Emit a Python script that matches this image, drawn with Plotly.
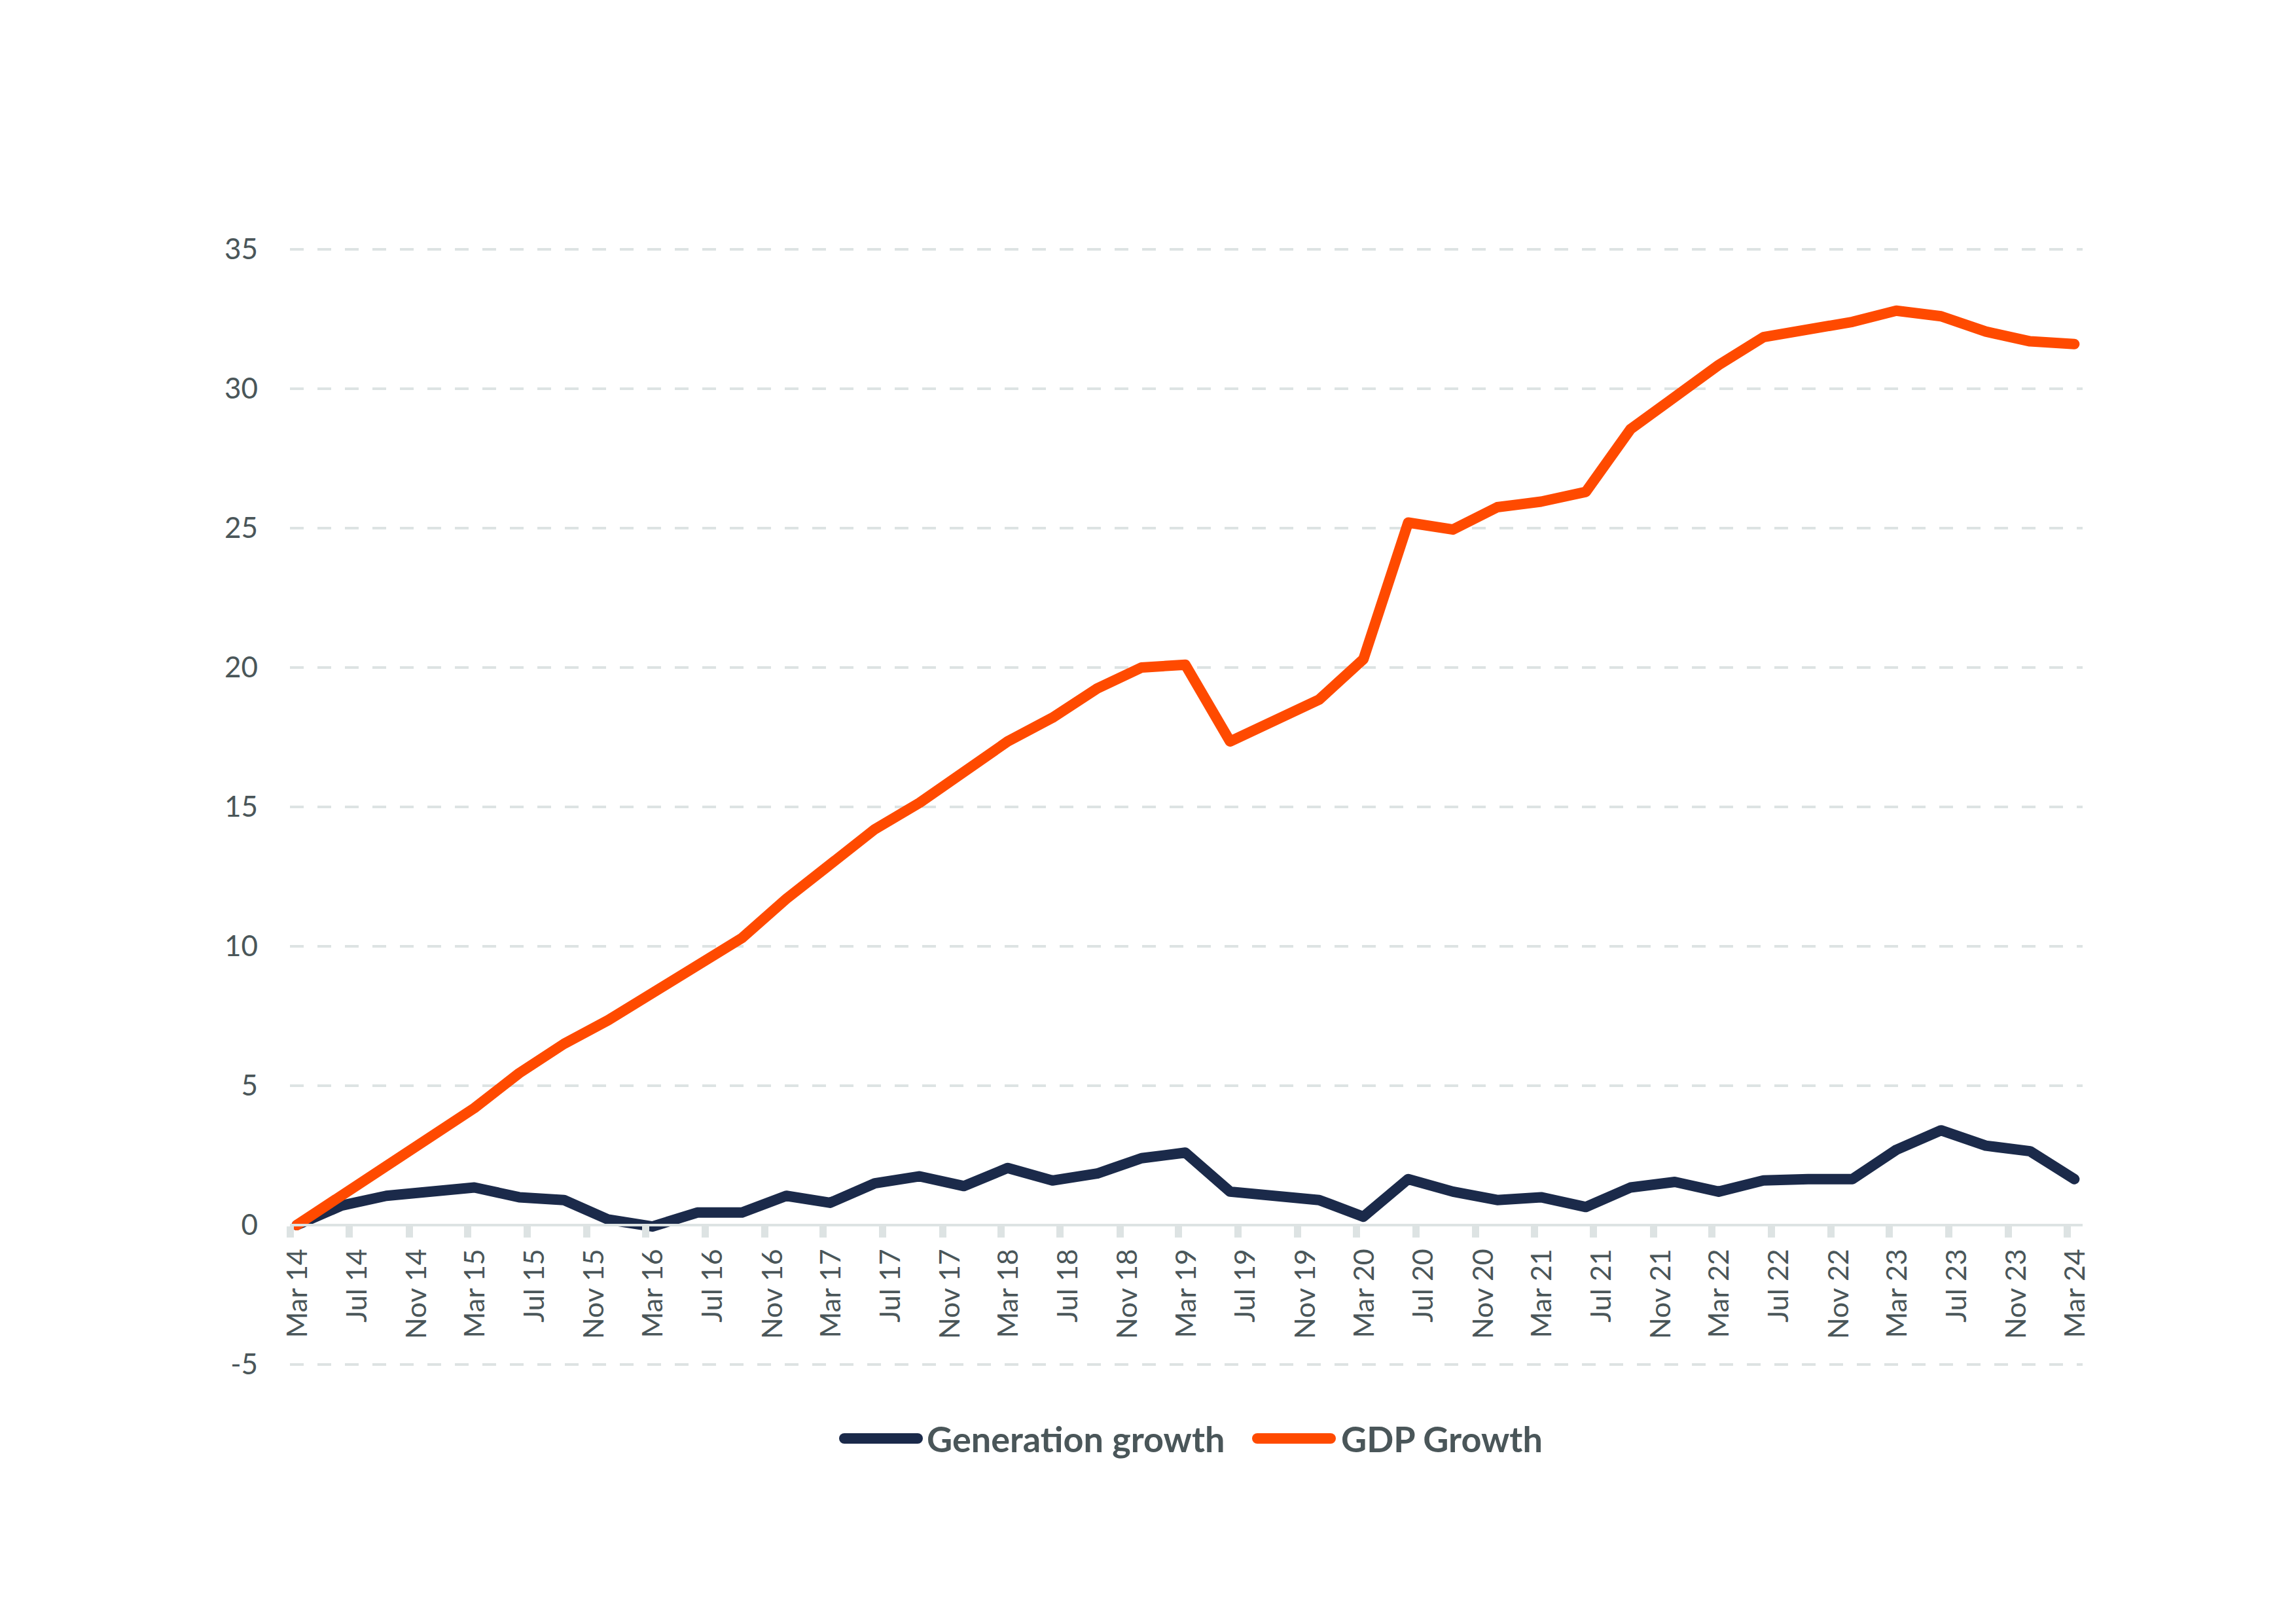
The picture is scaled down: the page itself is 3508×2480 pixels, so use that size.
import pandas as pd
import plotly.graph_objects as go

# Quarterly observations, Mar 2014 .. Mar 2024
periods = pd.date_range("2014-03-01", "2024-03-01", freq="3MS") + pd.Timedelta(days=14)

generation_growth = [
    0.0, 0.7, 1.05, 1.2, 1.35, 1.0, 0.9, 0.2, -0.05, 0.45, 0.45, 1.05, 0.8,
    1.5, 1.75, 1.4, 2.05, 1.6, 1.85, 2.4, 2.6, 1.2, 1.05, 0.9, 0.3, 1.65,
    1.2, 0.9, 1.0, 0.65, 1.35, 1.55, 1.2, 1.6, 1.65, 1.65, 2.7, 3.4, 2.85,
    2.65, 1.65,
]
gdp_growth = [
    0.0, 1.05, 2.1, 3.15, 4.2, 5.45, 6.5, 7.35, 8.3, 9.3, 10.3, 11.7, 12.9,
    14.2, 15.15, 16.25, 17.35, 18.2, 19.25, 20.0, 20.1, 17.35, 18.15, 18.85,
    20.3, 25.2, 24.95, 25.75, 25.95, 26.3, 28.55, 29.75, 30.85, 31.85, 32.1,
    32.4, 32.8, 32.6, 32.05, 31.7, 31.6,
]
series_names = ["Generation growth", "GDP Growth"]
series_colors = ["#1b2a4a", "#ff4a00"]

y_ticks = [-5, 0, 5, 10, 15, 20, 25, 30, 35]

W, H = 3508, 2480
x0_px, x1_px = 443, 3182
ytop_px, ybot_px = 381, 2085
pad = 0.03  # tiny range padding so edge gridlines (-5, 35) are drawn
y_min, y_max = -5, 35
unit_px = (ybot_px - ytop_px) / (y_max - y_min)
xdom = [x0_px / W, x1_px / W]
ydom = [(H - ybot_px - pad * unit_px) / H, (H - ytop_px + pad * unit_px) / H]
r_min, r_max = y_min - pad, y_max + pad
zero_pos = ydom[0] + (ydom[1] - ydom[0]) * (0 - r_min) / (r_max - r_min)

grey = "#dde3e3"
text_col = "#4a5659"
font_fam = "Lato"

fig = go.Figure()
for name, vals, col in zip(series_names, [generation_growth, gdp_growth], series_colors):
    fig.add_trace(go.Scatter(
        x=periods, y=vals, name=name, mode="lines",
        line=dict(color=col, width=16), showlegend=False,
    ))

fig.update_layout(
    width=W, height=H,
    margin=dict(l=0, r=0, t=0, b=0),
    paper_bgcolor="white", plot_bgcolor="white",
    font=dict(family=font_fam, color=text_col, size=43),
    xaxis=dict(
        domain=xdom, anchor="free", position=zero_pos,
        range=["2014-03-01", "2024-04-01"],
        type="date", tick0="2014-03-01", dtick="M4", tickformat="%b %y",
        tickangle=-90, tickfont=dict(size=43, color=text_col, family=font_fam),
        ticklabelshift=12,
        showgrid=False, zeroline=False,
        showline=True, linecolor=grey, linewidth=4,
        ticks="outside", ticklen=17, tickwidth=11, tickcolor=grey,
        automargin=False,
    ),
    yaxis=dict(
        domain=ydom, range=[r_min, r_max],
        tickmode="array", tickvals=y_ticks, ticktext=[str(v) for v in y_ticks],
        tickfont=dict(size=44, color=text_col, family=font_fam),
        showgrid=True, gridcolor=grey, gridwidth=4, griddash="21px,21px",
        zeroline=False, showline=False, ticks="", ticklabelstandoff=48,
        automargin=False,
    ),
)

# Custom legend (long rounded line keys as in the reference)
legend_y = 1 - 2198 / H
keys = [(1290, 1402, 1414), (1921, 2033, 2047)]
for (ks, ke, tx), name, col in zip(keys, series_names, series_colors):
    fig.add_shape(type="line", xref="paper", yref="paper",
                  x0=ks / W, x1=ke / W, y0=legend_y, y1=legend_y,
                  line=dict(color=col, width=16))
    fig.add_annotation(xref="paper", yref="paper", x=tx / W, y=legend_y,
                       text=f"<b>{name}</b>", showarrow=False,
                       xanchor="left", yanchor="middle",
                       font=dict(size=54, color=text_col, family=font_fam))

post = """
document.body.style.margin='0';
document.querySelectorAll('.scatterlayer path.js-line').forEach(function(p){
  p.style.strokeLinecap='round'; p.style.strokeLinejoin='round';
});
document.querySelectorAll('.layer-above path, .shapelayer path').forEach(function(p){
  p.style.strokeLinecap='round';
});
"""
fig.write_html("out.html", post_script=post, config={"displayModeBar": False})
